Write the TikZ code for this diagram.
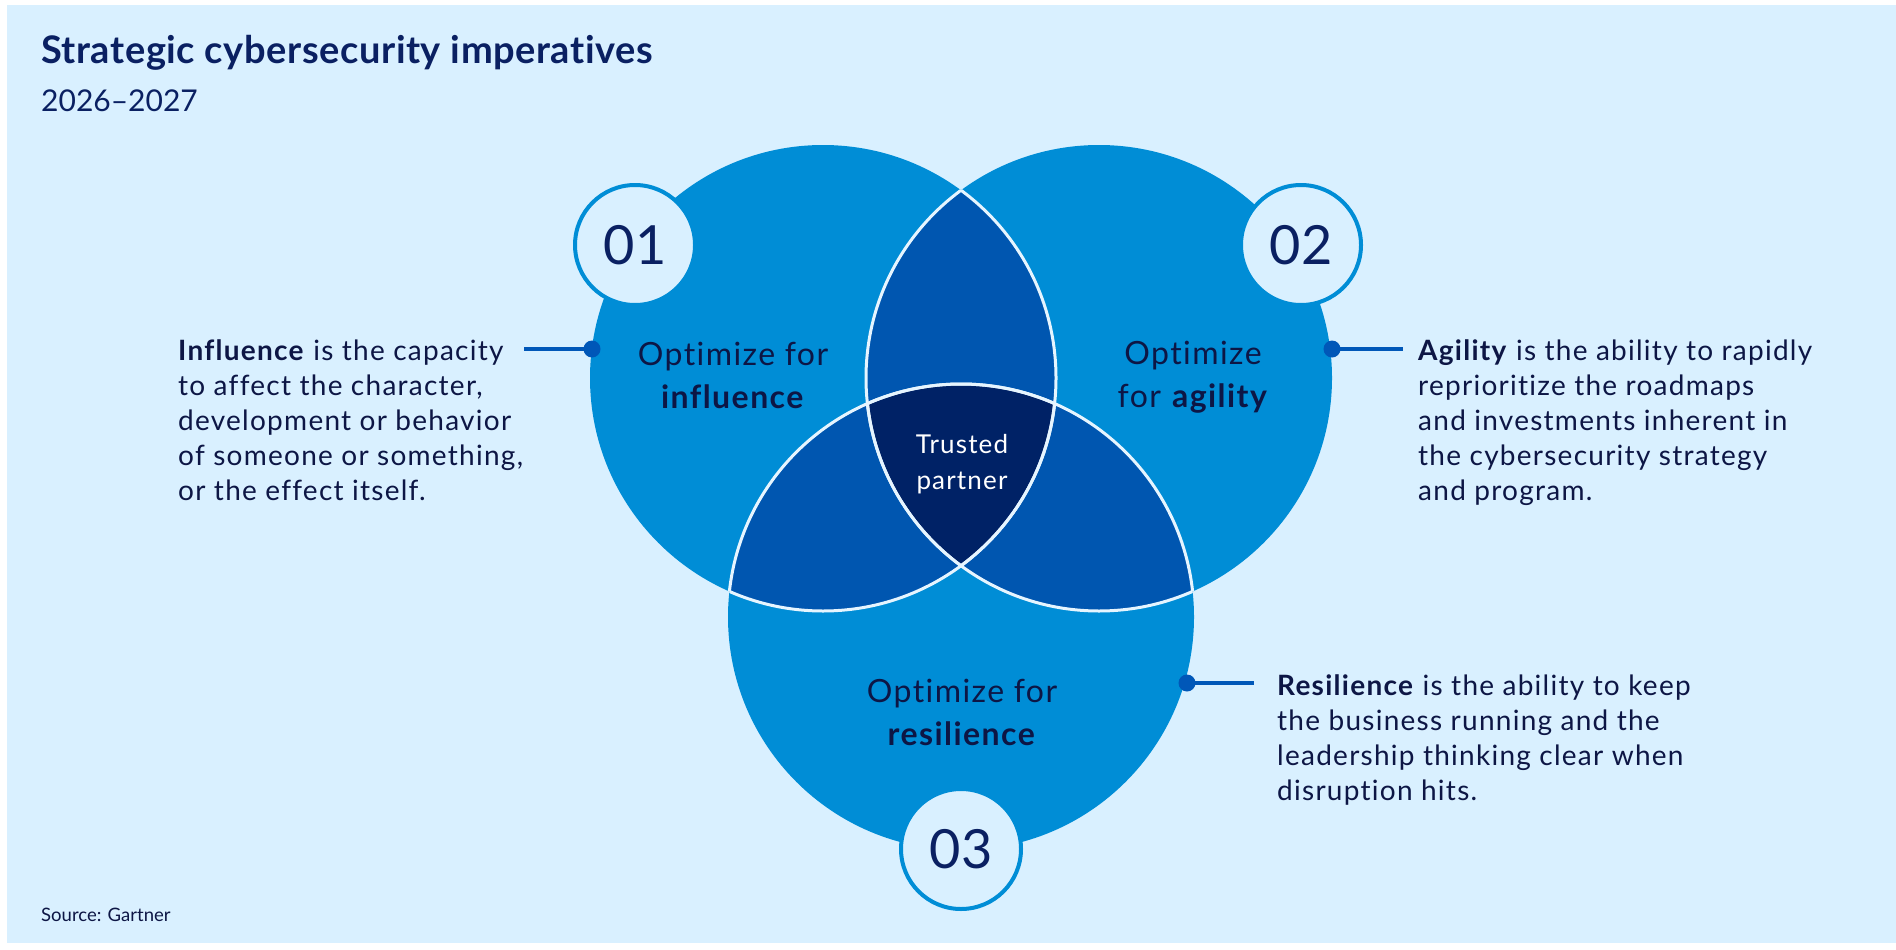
\documentclass[tikz,border=0pt]{standalone}
\usepackage{fontspec}
\setmainfont{Lato}
\newfontfamily\bodyfont[LetterSpace=4.5,Ligatures=NoCommon]{Lato}
\newfontfamily\titlefont[LetterSpace=1.5,Ligatures=NoCommon]{Lato}
\definecolor{pagebg}{HTML}{D9F0FF}
\definecolor{basebl}{HTML}{008DD6}
\definecolor{midbl}{HTML}{0056B0}
\definecolor{darkbl}{HTML}{002266}
\definecolor{navy}{HTML}{0A2062}
\definecolor{ink}{HTML}{0D1645}
\definecolor{linebl}{HTML}{0057B8}
\definecolor{edge}{HTML}{E6F5FF}
\tikzset{
  bodytext/.style={anchor=north west, inner sep=0pt, align=left, text=ink, font=\bodyfont\fontsize{28}{35}\selectfont},
  circtext/.style={inner sep=0pt, align=center, text=ink, font=\bodyfont\fontsize{32}{43}\selectfont},
  badge/.style={circle, minimum size=120pt, inner sep=0pt, fill=pagebg, draw=basebl, line width=4pt, text=navy, font=\fontsize{54}{54}\selectfont},
  leader/.style={draw=linebl, line width=4pt},
  dotmark/.style={circle, fill=linebl, minimum size=17pt, inner sep=0pt},
}
\begin{document}
\begin{tikzpicture}[x=1pt,y=-1pt]
\useasboundingbox (0,0) rectangle (1896,950);
\fill[white] (0,0) rectangle (1896,950);
\fill[pagebg] (7,5) rectangle (1896,943);
% title
\node[anchor=base west, inner sep=0pt, text=navy, font=\titlefont\bfseries\fontsize{38}{40}\selectfont] (title) at (41,64) {Strategic cybersecurity imperatives};
\node[anchor=base west, inner sep=0pt, text=navy, font=\fontsize{30}{34}\selectfont] (years) at (41,111) {2026--2027};
% circles
\coordinate (c1) at (823,378);
\coordinate (c2) at (1099,378);
\coordinate (c3) at (961,617);
\def\rr{233pt}
\fill[basebl] (c1) circle[radius=\rr];
\fill[basebl] (c2) circle[radius=\rr];
\fill[basebl] (c3) circle[radius=\rr];
\begin{scope}\clip (c1) circle[radius=\rr]; \fill[midbl] (c2) circle[radius=\rr]; \fill[midbl] (c3) circle[radius=\rr];\end{scope}
\begin{scope}\clip (c2) circle[radius=\rr]; \fill[midbl] (c3) circle[radius=\rr];\end{scope}
\begin{scope}\clip (c1) circle[radius=\rr]; \clip (c2) circle[radius=\rr]; \fill[darkbl] (c3) circle[radius=\rr];\end{scope}
\begin{scope}
\clip (c1) circle[radius=\rr]; \draw[edge, line width=3pt] (c2) circle[radius=\rr]; \draw[edge, line width=3pt] (c3) circle[radius=\rr];
\end{scope}
\begin{scope}
\clip (c2) circle[radius=\rr]; \draw[edge, line width=3pt] (c1) circle[radius=\rr]; \draw[edge, line width=3pt] (c3) circle[radius=\rr];
\end{scope}
\begin{scope}
\clip (c3) circle[radius=\rr]; \draw[edge, line width=3pt] (c1) circle[radius=\rr]; \draw[edge, line width=3pt] (c2) circle[radius=\rr];
\end{scope}
% circle labels
\node[circtext] (t1) at (733,375) {Optimize for\\\textbf{influence}};
\node[circtext] (t2) at (1193,377) {Optimize\\for \textbf{agility}};
\node[circtext] (t3) at (962,712) {Optimize for\\\textbf{resilience}};
\node[circtext, text=white, font=\bodyfont\fontsize{26}{36}\selectfont] (tp) at (962,464) {Trusted\\partner};
% badges
\node[badge] (b1) at (635,245) {01};
\node[badge] (b2) at (1301,245) {02};
\node[badge] (b3) at (961,849) {03};
% descriptions
\node[bodytext] (d1) at (178,339) {\textbf{Influence} is the capacity\\to affect the character,\\development or behavior\\of someone or something,\\or the effect itself.};
\node[bodytext] (d2) at (1418,339) {\textbf{Agility} is the ability to rapidly\\reprioritize the roadmaps\\and investments inherent in\\the cybersecurity strategy\\and program.};
\node[bodytext] (d3) at (1277,674) {\textbf{Resilience} is the ability to keep\\the business running and the\\leadership thinking clear when\\disruption hits.};
% leaders
\node[dotmark] (p1) at (592,349) {};
\node[dotmark] (p2) at (1332,349) {};
\node[dotmark] (p3) at (1187,683) {};
\coordinate (e1) at (524,349);
\coordinate (e2) at (1403,349);
\coordinate (e3) at (1254,683);
\draw[leader] (e1) -- (p1.center);
\draw[leader] (p2.center) -- (e2);
\draw[leader] (p3.center) -- (e3);
% source
\node[anchor=base west, inner sep=0pt, text=ink, font=\fontsize{18.5}{20}\selectfont] (src) at (41,921) {Source: Gartner};
\end{tikzpicture}
\end{document}
